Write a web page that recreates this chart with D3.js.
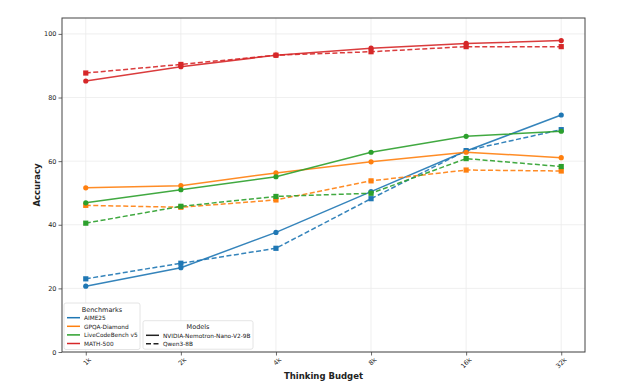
<!DOCTYPE html>
<html>
<head>
<meta charset="utf-8">
<script src="https://cdn.jsdelivr.net/npm/d3@7"></script>
<style>
body { margin: 0; background: white; }
text { font-family: "DejaVu Sans", sans-serif; fill: #222; }
.grid line { stroke: #ebebeb; stroke-width: 0.8; }
</style>
</head>
<body>
<div id="container"></div>
<script>
var budgets = ["1k", "2k", "4k", "8k", "16k", "32k"];
var benchmarks = ["AIME25", "GPQA-Diamond", "LiveCodeBench v5", "MATH-500"];
var models = ["NVIDIA-Nemotron-Nano-V2-9B", "Qwen3-8B"];
var colors = ["#1f77b4", "#ff7f0e", "#2ca02c", "#d62728"];

// nemotron (solid, circles)
var aimeNemo = [20.7, 26.5, 37.6, 50.4, 63.2, 74.5];
var gpqaNemo = [51.6, 52.3, 56.3, 59.8, 62.8, 61.1];
var lcbNemo  = [46.9, 51.0, 55.1, 62.8, 67.8, 69.4];
var mathNemo = [85.2, 89.7, 93.3, 95.5, 97.0, 97.9];
// qwen (dashed, squares)
var aimeQwen = [23.0, 27.9, 32.6, 48.2, 63.3, 69.9];
var gpqaQwen = [46.1, 45.5, 47.8, 53.8, 57.2, 56.9];
var lcbQwen  = [40.5, 45.8, 48.9, 49.9, 60.8, 58.3];
var mathQwen = [87.7, 90.4, 93.3, 94.4, 96.0, 96.0];

var yTicks = [0, 20, 40, 60, 80, 100];

var series = [
    {b: 0, m: 0, values: aimeNemo}, {b: 0, m: 1, values: aimeQwen},
    {b: 1, m: 0, values: gpqaNemo}, {b: 1, m: 1, values: gpqaQwen},
    {b: 2, m: 0, values: lcbNemo},  {b: 2, m: 1, values: lcbQwen},
    {b: 3, m: 0, values: mathNemo}, {b: 3, m: 1, values: mathQwen}
];

var width = 619, height = 389;
var pLeft = 62, pTop = 18, pRight = 585, pBottom = 352;

var svg = d3.select("#container").append("svg")
    .attr("width", width)
    .attr("height", height);

var x = d3.scalePoint()
    .domain(budgets)
    .range([pLeft, pRight])
    .padding(0.25);

var y = d3.scaleLinear()
    .domain([0, 105])
    .range([pBottom, pTop]);

// grid
var grid = svg.append("g").attr("class", "grid");
grid.selectAll(".gx").data(budgets).enter().append("line")
    .attr("x1", d => x(d)).attr("x2", d => x(d))
    .attr("y1", pTop).attr("y2", pBottom);
grid.selectAll(".gy").data(yTicks).enter().append("line")
    .attr("x1", pLeft).attr("x2", pRight)
    .attr("y1", d => y(d)).attr("y2", d => y(d));

// axes
var xAxis = svg.append("g")
    .attr("transform", `translate(0,${pBottom})`)
    .call(d3.axisBottom(x).tickSize(3.5).tickPadding(2));
xAxis.selectAll("text")
    .attr("font-size", 6.5)
    .attr("fill", "#333")
    .attr("text-anchor", "end")
    .attr("dy", "0.3em")
    .attr("transform", "translate(0,3) rotate(-45)");

var yAxis = svg.append("g")
    .attr("transform", `translate(${pLeft},0)`)
    .call(d3.axisLeft(y).tickValues(yTicks).tickSize(3.5).tickPadding(2));
yAxis.selectAll("text").attr("font-size", 6.5).attr("fill", "#333");

svg.selectAll(".domain").remove();
svg.selectAll(".tick line").attr("stroke", "#444").attr("stroke-width", 0.8);

// frame
svg.append("rect")
    .attr("x", pLeft).attr("y", pTop)
    .attr("width", pRight - pLeft).attr("height", pBottom - pTop)
    .attr("fill", "none").attr("stroke", "#444").attr("stroke-width", 1);

// lines
var line = d3.line()
    .x((d, i) => x(budgets[i]))
    .y(d => y(d));

var g = svg.append("g");
series.forEach(function(s) {
    var c = colors[s.b];
    g.append("path")
        .datum(s.values)
        .attr("d", line)
        .attr("fill", "none")
        .attr("stroke", c)
        .attr("stroke-width", 1.5)
        .attr("stroke-dasharray", s.m == 1 ? "5,2.5" : null)
        .attr("opacity", 0.9);
    if (s.m == 0) {
        g.selectAll(null).data(s.values).enter().append("circle")
            .attr("cx", (d, i) => x(budgets[i]))
            .attr("cy", d => y(d))
            .attr("r", 2.6)
            .attr("fill", c);
    } else {
        g.selectAll(null).data(s.values).enter().append("rect")
            .attr("x", (d, i) => x(budgets[i]) - 2.6)
            .attr("y", d => y(d) - 2.6)
            .attr("width", 5.2).attr("height", 5.2)
            .attr("fill", c);
    }
});

// axis titles
svg.append("text")
    .attr("x", (pLeft + pRight) / 2).attr("y", 379)
    .attr("text-anchor", "middle")
    .attr("font-size", 8.5).attr("font-weight", "bold")
    .text("Thinking Budget");
svg.append("text")
    .attr("transform", `translate(40,${(pTop + pBottom) / 2}) rotate(-90)`)
    .attr("text-anchor", "middle")
    .attr("font-size", 8.5).attr("font-weight", "bold")
    .text("Accuracy");

// legends
function legendBox(x0, y0, w, h) {
    svg.append("rect")
        .attr("x", x0).attr("y", y0).attr("width", w).attr("height", h)
        .attr("rx", 2)
        .attr("fill", "white").attr("fill-opacity", 0.85)
        .attr("stroke", "#ddd").attr("stroke-width", 0.8);
}

legendBox(64, 303, 76, 46.5);
svg.append("text").attr("x", 102).attr("y", 312)
    .attr("text-anchor", "middle").attr("font-size", 6.5).text("Benchmarks");
benchmarks.forEach(function(b, i) {
    var yy = 317.7 + i * 8.6;
    svg.append("line").attr("x1", 67).attr("x2", 80)
        .attr("y1", yy).attr("y2", yy)
        .attr("stroke", colors[i]).attr("stroke-width", 1.5);
    svg.append("text").attr("x", 84).attr("y", yy + 2.2)
        .attr("font-size", 5.8).text(b);
});

legendBox(143, 320.7, 110, 28.5);
svg.append("text").attr("x", 198).attr("y", 329.3)
    .attr("text-anchor", "middle").attr("font-size", 6.5).text("Models");
models.forEach(function(m, i) {
    var yy = 335.3 + i * 8.4;
    svg.append("line").attr("x1", 146).attr("x2", 159)
        .attr("y1", yy).attr("y2", yy)
        .attr("stroke", "#222").attr("stroke-width", 1.5)
        .attr("stroke-dasharray", i == 1 ? "5,2.5" : null);
    svg.append("text").attr("x", 163).attr("y", yy + 2.2)
        .attr("font-size", 5.8).text(m);
});
</script>
</body>
</html>
